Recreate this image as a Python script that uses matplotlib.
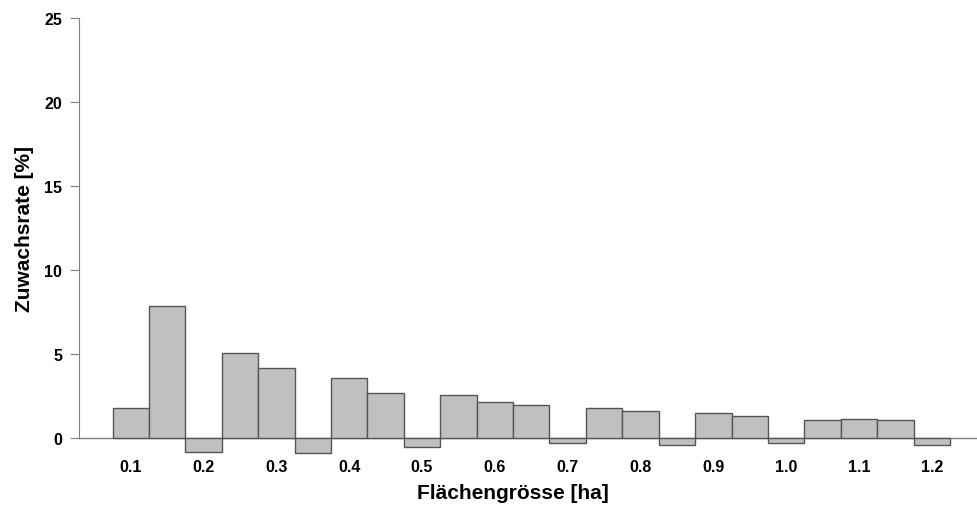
import matplotlib.pyplot as plt
import numpy as np

# bar centres (ha) and growth rates (%)
flaeche = [0.10, 0.15, 0.20, 0.25, 0.30, 0.35, 0.40, 0.45, 0.50, 0.55, 0.60, 0.65,
           0.70, 0.75, 0.80, 0.85, 0.90, 0.95, 1.00, 1.05, 1.10, 1.15, 1.20]
zuwachs = [1.77, 7.83, -0.86, 5.05, 4.14, -0.94, 3.56, 2.63, -0.55, 2.55, 2.13, 1.92,
           -0.33, 1.77, 1.56, -0.43, 1.45, 1.30, -0.30, 1.05, 1.13, 1.05, -0.43]
xticks = [0.1, 0.2, 0.3, 0.4, 0.5, 0.6, 0.7, 0.8, 0.9, 1.0, 1.1, 1.2]
yticks = [0, 5, 10, 15, 20, 25]

plt.rcParams['font.family'] = ['Liberation Sans', 'DejaVu Sans']
plt.rcParams['font.weight'] = 'bold'

fig = plt.figure(figsize=(9.78, 5.06), dpi=100)
ax = fig.add_axes([79 / 978, 1 - 458.7 / 506, 898 / 978, 439.4 / 506])

ax.bar(flaeche, zuwachs, width=0.05, color='#c0c0c0', edgecolor='#555555', linewidth=1, zorder=2)
ax.axhline(0, color='#808080', linewidth=1, zorder=1)

ax.set_xlim(0.029, 1.262)
ax.set_ylim(-1.2, 25)

for s in ['top', 'right', 'bottom']:
    ax.spines[s].set_visible(False)
ax.spines['left'].set_bounds(0, 25)
ax.spines['left'].set_color('#808080')

ax.set_xticks(xticks)
ax.set_xticklabels(['%.1f' % t for t in xticks])
ax.set_yticks(yticks)
ax.tick_params(axis='x', length=0, pad=1, labelsize=11.5)
ax.tick_params(axis='y', length=6.2, pad=6.0, labelsize=11.5, color='#808080')

ax.set_xlabel('Flächengrösse [ha]', fontsize=15, fontweight='bold')
ax.set_ylabel('Zuwachsrate [%]', fontsize=15, fontweight='bold')
ax.xaxis.set_label_coords(0.483, -0.058)
ax.yaxis.set_label_coords(-0.050, 0.523)

fig.savefig('out.png', dpi=100)
